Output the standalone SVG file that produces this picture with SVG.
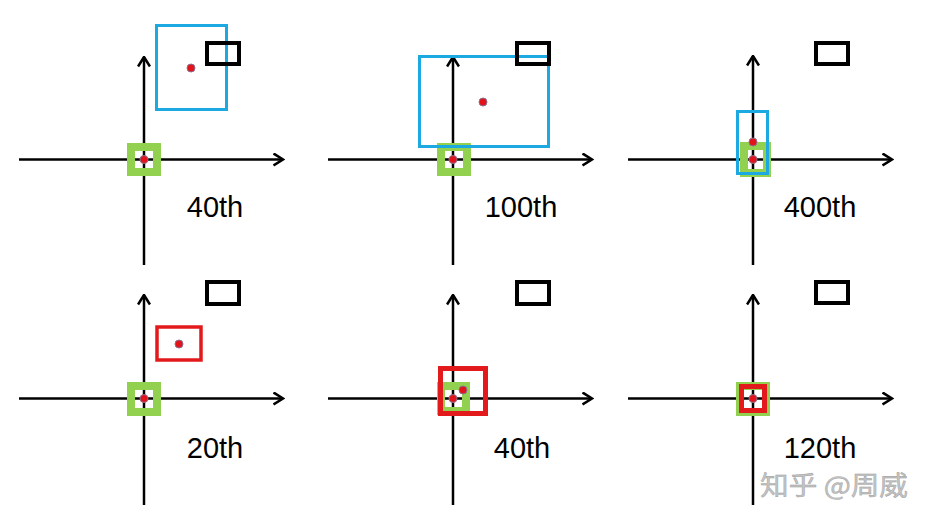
<svg xmlns="http://www.w3.org/2000/svg" width="931" height="524" viewBox="0 0 931 524">
<style>
.ax{stroke:#000;stroke-width:2.5;fill:none}
.g{fill:none;stroke:#92d050;stroke-width:8}
.b{fill:none;stroke:#1ca9e1;stroke-width:3}
.r{fill:none;stroke:#e31a1c;stroke-width:4}
.k{fill:none;stroke:#000;stroke-width:4}
.d{fill:#e3131b;stroke:#8a6f8f;stroke-width:1}
.lbl{font-family:"Liberation Sans",Arial,sans-serif;font-size:29px;fill:#000;text-anchor:middle}
.wm{font-family:"Noto Sans CJK SC","Liberation Sans",sans-serif;font-size:26px;fill:#c4c4c4;stroke:#9a9a9a;stroke-width:0.4}
</style>
<defs>
<marker id="arr" viewBox="0 0 12 14" refX="10.5" refY="7" markerWidth="12" markerHeight="14" orient="auto" markerUnits="userSpaceOnUse">
<path d="M1,1 L10.5,7 L1,13" fill="none" stroke="#000" stroke-width="2.6"/>
</marker>
</defs>
<rect width="931" height="524" fill="#fff"/>
<g id="axes">
<line class="ax" x1="19" y1="159.5" x2="283" y2="159.5" marker-end="url(#arr)"/>
<line class="ax" x1="144" y1="265" x2="144" y2="57" marker-end="url(#arr)"/>
<line class="ax" x1="328" y1="159.5" x2="592" y2="159.5" marker-end="url(#arr)"/>
<line class="ax" x1="453" y1="265" x2="453" y2="57" marker-end="url(#arr)"/>
<line class="ax" x1="628" y1="159.5" x2="892" y2="159.5" marker-end="url(#arr)"/>
<line class="ax" x1="753" y1="265" x2="753" y2="56" marker-end="url(#arr)"/>
<line class="ax" x1="19" y1="398.5" x2="283" y2="398.5" marker-end="url(#arr)"/>
<line class="ax" x1="144" y1="505" x2="144" y2="295" marker-end="url(#arr)"/>
<line class="ax" x1="328" y1="398.5" x2="592" y2="398.5" marker-end="url(#arr)"/>
<line class="ax" x1="453" y1="505" x2="453" y2="295" marker-end="url(#arr)"/>
<line class="ax" x1="628" y1="398.5" x2="892" y2="398.5" marker-end="url(#arr)"/>
<line class="ax" x1="753" y1="505" x2="753" y2="295" marker-end="url(#arr)"/>
</g>
<g id="panel1">
<rect class="g" x="131" y="147" width="26" height="25"/>
<rect class="b" x="156.5" y="25.5" width="70" height="84"/>
<rect class="k" x="207" y="43" width="32" height="21"/>
<circle class="d" cx="144" cy="159.5" r="4"/>
<circle class="d" cx="191" cy="68" r="4"/>
<text class="lbl" x="215" y="217">40th</text>
</g>
<g id="panel2">
<rect class="g" x="441" y="147" width="26" height="25"/>
<rect class="b" x="419.5" y="56.5" width="129" height="90"/>
<rect class="k" x="517" y="43" width="32" height="21"/>
<circle class="d" cx="453" cy="159.5" r="4"/>
<circle class="d" cx="483" cy="102" r="4"/>
<text class="lbl" x="521" y="217">100th</text>
</g>
<g id="panel3">
<rect class="g" x="744" y="146" width="23" height="27"/>
<rect class="b" x="737.5" y="111.5" width="30" height="62"/>
<rect class="k" x="816" y="43" width="32" height="21"/>
<circle class="d" cx="753" cy="142" r="4"/>
<circle class="d" cx="753" cy="159.5" r="4"/>
<text class="lbl" x="820" y="217">400th</text>
</g>
<g id="panel4">
<rect class="g" x="131" y="386" width="26" height="26"/>
<rect class="r" x="157" y="327" width="44" height="33" style="stroke-width:3.5"/>
<rect class="k" x="207" y="282" width="32" height="22"/>
<circle class="d" cx="144" cy="398.5" r="4"/>
<circle class="d" cx="179" cy="344" r="4"/>
<text class="lbl" x="215" y="458">20th</text>
</g>
<g id="panel5">
<rect class="g" x="441" y="386" width="25" height="25"/>
<rect class="r" x="440.5" y="368.5" width="45" height="45" style="stroke-width:5"/>
<rect class="k" x="517" y="282" width="32" height="22"/>
<circle class="d" cx="453" cy="398.5" r="4"/>
<circle class="d" cx="463" cy="390" r="4"/>
<text class="lbl" x="522" y="458">40th</text>
</g>
<g id="panel6">
<rect class="g" x="740" y="386" width="26" height="26"/>
<rect class="r" x="741.5" y="386.5" width="23" height="24" style="stroke-width:5"/>
<rect class="k" x="816" y="282" width="32" height="21"/>
<circle class="d" cx="753" cy="398.5" r="4"/>
<text class="lbl" x="820" y="458">120th</text>
</g>
<text class="wm" x="760" y="495" textLength="148" lengthAdjust="spacingAndGlyphs">知乎 @周威</text>
</svg>
